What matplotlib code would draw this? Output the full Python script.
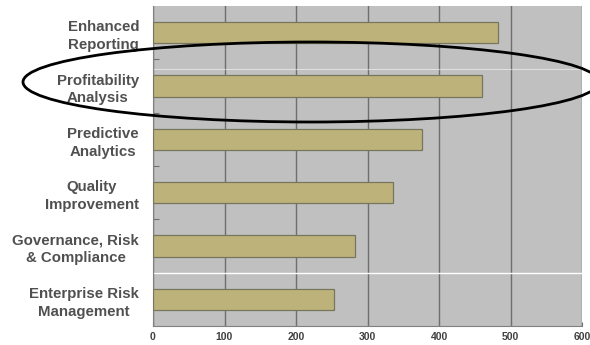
import matplotlib
matplotlib.use("Agg")
import matplotlib.pyplot as plt
from matplotlib.patches import Ellipse

categories = [
    "Enhanced\nReporting",
    "Profitability\nAnalysis",
    "Predictive\nAnalytics",
    "Quality\nImprovement",
    "Governance, Risk\n& Compliance",
    "Enterprise Risk\nManagement",
]
values = [483, 460, 376, 336, 283, 253]
x_ticks = [0, 100, 200, 300, 400, 500, 600]

plt.rcParams["font.family"] = ["Liberation Sans", "DejaVu Sans"]

fig = plt.figure(figsize=(5.9, 3.45), dpi=100)
ax = fig.add_axes([153 / 590, 1 - 326 / 345, (582 - 153) / 590, (326 - 6) / 345])
ax.set_facecolor("#c0c0c0")

# bottom-up order so the first category sits at the top
cats = categories[::-1]
vals = values[::-1]
ypos = list(range(len(cats)))

ax.barh(ypos, vals, height=0.4, color="#bdb37a", edgecolor="#77755f",
        linewidth=0.9, zorder=3)

ax.set_xlim(0, 600)
ax.set_ylim(-0.5, len(cats) - 0.5)
ax.set_xticks(x_ticks)
ax.set_xticklabels([str(t) for t in x_ticks], fontsize=7.5, fontweight="bold",
                   color="#404040")
ax.grid(axis="x", color="#6e6e6e", linewidth=1.0, zorder=1)
ax.set_axisbelow(True)

ax.set_yticks(ypos)
ax.set_yticklabels(cats, fontsize=10.8, fontweight="bold", color="#505050",
                   ha="right", multialignment="center", linespacing=1.35)
ax.tick_params(axis="y", length=0, pad=10)
ax.set_yticks([p + 0.5 for p in ypos[:-1]], minor=True)
ax.tick_params(axis="y", which="minor", direction="in", length=4,
               color="#707070", width=0.8)
ax.tick_params(axis="x", direction="in", length=3, color="#707070", pad=4)

for side in ["top", "right"]:
    ax.spines[side].set_visible(False)
ax.spines["left"].set_color("#808080")
ax.spines["bottom"].set_color("#808080")

# light separator lines across the plot
ax.axhline(0.5, color="white", linewidth=1.0, zorder=2)
ax.axhline(4.32, color="white", linewidth=0.8, alpha=0.5, zorder=2)

# highlight ring around "Profitability Analysis"
overlay = fig.add_axes([0, 0, 1, 1], facecolor="none")
overlay.set_xlim(0, 590)
overlay.set_ylim(345, 0)
overlay.axis("off")
overlay.add_patch(Ellipse((311, 82), 576, 80, fill=False, edgecolor="black",
                          linewidth=2.0))

fig.savefig("out.png", dpi=100, facecolor="white")
